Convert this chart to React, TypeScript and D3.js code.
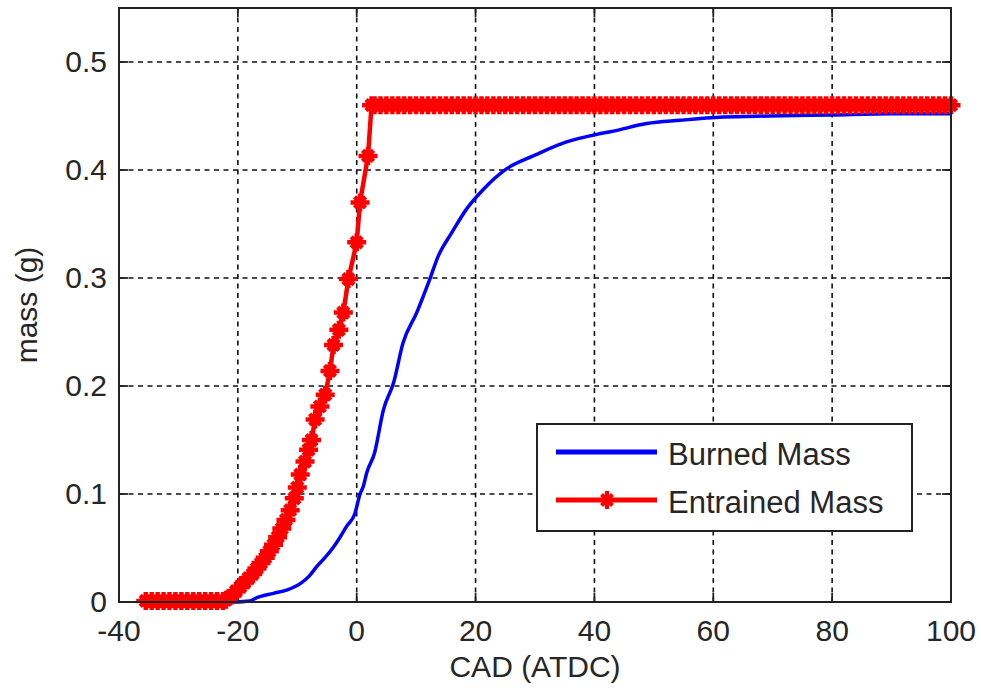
import React from "react";
import * as d3 from "d3";

// Crank angle (deg ATDC) and mass (g) for the burned-mass curve
const burnedCad = [
  -20.8, -18, -16.8, -14, -11.8, -9.5, -8, -6.7, -5.2, -3.9, -2.8, -1.7, -0.3, 0.56, 1.1, 1.7, 3.0,
  4.5, 6.2, 7.8, 10.1, 12.3, 13.7, 16.0, 18.5, 21.3, 25.2, 29.7, 35.3, 40.4, 43.2, 48.8, 54.4,
  61.7, 69.5, 80, 90, 100,
];
const burnedMass = [
  0, 0.001, 0.004, 0.008, 0.011, 0.017, 0.024, 0.033, 0.042, 0.051, 0.06, 0.07, 0.082, 0.1, 0.107,
  0.12, 0.138, 0.178, 0.203, 0.24, 0.268, 0.299, 0.32, 0.342, 0.364, 0.382, 0.401, 0.413, 0.426,
  0.433, 0.436, 0.443, 0.446, 0.449, 0.45, 0.451, 0.452, 0.452,
];

// Crank angle (deg ATDC) and mass (g) for the entrained-mass curve
const entrainedCad = [
  -35.5, -34.5, -33.5, -32.5, -31.5, -30.5, -29.5, -28.5, -27.5, -26.5, -25.5, -24.5, -23.5, -22.5,
  -22, -21, -20.3, -19.6, -18.9, -18.2, -17.5, -16.8, -16.1, -15.4, -14.7, -14.0, -13.3, -12.6,
  -11.9, -11.2, -10.5, -10.0, -9.5, -8.7, -8.1, -7.6, -7.0, -6.2, -5.3, -4.5, -3.9, -3.0, -2.25,
  -1.4, 0, 0.56, 1.9, 2.5,
  3, 4, 5, 6, 7, 8, 9, 10, 11, 12, 13, 14, 15, 16, 17, 18, 19, 20, 21, 22, 23, 24, 25, 26, 27, 28,
  29, 30, 31, 32, 33, 34, 35, 36, 37, 38, 39, 40, 41, 42, 43, 44, 45, 46, 47, 48, 49, 50, 51, 52,
  53, 54, 55, 56, 57, 58, 59, 60, 61, 62, 63, 64, 65, 66, 67, 68, 69, 70, 71, 72, 73, 74, 75, 76,
  77, 78, 79, 80, 81, 82, 83, 84, 85, 86, 87, 88, 89, 90, 91, 92, 93, 94, 95, 96, 97, 98, 99, 100,
];
const entrainedMass = [
  0.001, 0.001, 0.001, 0.001, 0.001, 0.001, 0.001, 0.001, 0.001, 0.001, 0.001, 0.001, 0.001, 0.001,
  0.002, 0.006, 0.01, 0.014, 0.018, 0.022, 0.026, 0.031, 0.036, 0.041, 0.047, 0.053, 0.06, 0.068,
  0.076, 0.085, 0.096, 0.106, 0.118, 0.13, 0.141, 0.15, 0.169, 0.181, 0.192, 0.214, 0.238, 0.252,
  0.268, 0.299, 0.333, 0.37, 0.413, 0.46,
  0.46, 0.46, 0.46, 0.46, 0.46, 0.46, 0.46, 0.46, 0.46, 0.46, 0.46, 0.46, 0.46, 0.46, 0.46, 0.46,
  0.46, 0.46, 0.46, 0.46, 0.46, 0.46, 0.46, 0.46, 0.46, 0.46, 0.46, 0.46, 0.46, 0.46, 0.46, 0.46,
  0.46, 0.46, 0.46, 0.46, 0.46, 0.46, 0.46, 0.46, 0.46, 0.46, 0.46, 0.46, 0.46, 0.46, 0.46, 0.46,
  0.46, 0.46, 0.46, 0.46, 0.46, 0.46, 0.46, 0.46, 0.46, 0.46, 0.46, 0.46, 0.46, 0.46, 0.46, 0.46,
  0.46, 0.46, 0.46, 0.46, 0.46, 0.46, 0.46, 0.46, 0.46, 0.46, 0.46, 0.46, 0.46, 0.46, 0.46, 0.46,
  0.46, 0.46, 0.46, 0.46, 0.46, 0.46, 0.46, 0.46, 0.46, 0.46, 0.46, 0.46, 0.46, 0.46, 0.46, 0.46,
  0.46, 0.46,
];

const xTicks = [-40, -20, 0, 20, 40, 60, 80, 100];
const yTicks = [0, 0.1, 0.2, 0.3, 0.4, 0.5];
const seriesNames = ["Burned Mass", "Entrained Mass"];

const W = 981;
const H = 690;
const left = 119;
const right = 951;
const top = 8;
const bottom = 602;
const FONT = "'Liberation Sans', Arial, sans-serif";

// asterisk marker: plus plus short diagonals
const starPath = (cx: number, cy: number) => {
  const h = 9.5, v = 9, d = 5.5;
  return `M${cx - h},${cy}L${cx + h},${cy}M${cx},${cy - v}L${cx},${cy + v}` +
    `M${cx - d},${cy - d}L${cx + d},${cy + d}M${cx - d},${cy + d}L${cx + d},${cy - d}`;
};

export default function App() {
  const x = d3.scaleLinear().domain([-40, 100]).range([left, right]);
  const y = d3.scaleLinear().domain([0, 0.55]).range([bottom, top]);

  const burned = burnedCad.map((c, i) => [c, burnedMass[i]] as [number, number]);
  const entrained = entrainedCad.map((c, i) => [c, entrainedMass[i]] as [number, number]);
  const smoothLine = d3.line<[number, number]>().x((d) => x(d[0])).y((d) => y(d[1])).curve(d3.curveMonotoneX);
  const line = d3.line<[number, number]>().x((d) => x(d[0])).y((d) => y(d[1]));

  const tickLen = 9;
  const gridColor = "#111";
  const textColor = "#262626";

  return (
    <svg
      width={W}
      height={H}
      style={{ position: "absolute", left: 0, top: 0, background: "#fff" }}
      fontFamily={FONT}
    >
      <rect x={0} y={0} width={W} height={H} fill="#fff" />
      {/* grid */}
      {xTicks.slice(1, -1).map((t) => (
        <line key={"gx" + t} x1={x(t)} x2={x(t)} y1={top} y2={bottom} stroke={gridColor}
          strokeWidth={1.6} strokeDasharray="5,4.5" />
      ))}
      {yTicks.slice(1).map((t) => (
        <line key={"gy" + t} x1={left} x2={right} y1={y(t)} y2={y(t)} stroke={gridColor}
          strokeWidth={1.6} strokeDasharray="5,4.5" />
      ))}
      {/* ticks */}
      {xTicks.map((t) => (
        <g key={"tx" + t}>
          <line x1={x(t)} x2={x(t)} y1={bottom} y2={bottom - tickLen} stroke="#222" strokeWidth={1.8} />
          <line x1={x(t)} x2={x(t)} y1={top} y2={top + tickLen} stroke="#222" strokeWidth={1.8} />
          <text x={x(t)} y={641} textAnchor="middle" fontSize={30} fill={textColor}>{t}</text>
        </g>
      ))}
      {yTicks.map((t) => (
        <g key={"ty" + t}>
          <line x1={left} x2={left + tickLen} y1={y(t)} y2={y(t)} stroke="#222" strokeWidth={1.8} />
          <line x1={right} x2={right - tickLen} y1={y(t)} y2={y(t)} stroke="#222" strokeWidth={1.8} />
          <text x={107} y={y(t)} dy="0.33em" textAnchor="end" fontSize={30} fill={textColor}>{t}</text>
        </g>
      ))}
      {/* series */}
      <path d={smoothLine(burned) || ""} fill="none" stroke="#0000ff" strokeWidth={3.5} strokeLinejoin="round" />
      <path d={line(entrained) || ""} fill="none" stroke="#ff0000" strokeWidth={4.5} strokeLinejoin="round" />
      <path
        d={entrained.map((d) => starPath(x(d[0]), y(d[1]))).join("")}
        fill="none" stroke="#ff0000" strokeWidth={4.5}
      />
      {/* frame */}
      <rect x={left} y={top} width={right - left} height={bottom - top} fill="none" stroke="#222" strokeWidth={2} />
      {/* axis labels */}
      <text x={(left + right) / 2} y={677} textAnchor="middle" fontSize={30} fill={textColor}>CAD (ATDC)</text>
      <text transform={`translate(37,${(top + bottom) / 2}) rotate(-90)`} textAnchor="middle" fontSize={30} fill={textColor}>
        mass (g)
      </text>
      {/* legend */}
      <g>
        <rect x={537} y={424} width={375} height={107} fill="#fff" stroke="#222" strokeWidth={2} />
        <line x1={556} x2={657} y1={452} y2={452} stroke="#0000ff" strokeWidth={5} />
        <text x={668} y={465} fontSize={31} fill={textColor}>{seriesNames[0]}</text>
        <line x1={556} x2={657} y1={500} y2={500} stroke="#ff0000" strokeWidth={5} />
        <path d={starPath(607, 500)} fill="none" stroke="#ff0000" strokeWidth={4} />
        <text x={668} y={513} fontSize={31} fill={textColor}>{seriesNames[1]}</text>
      </g>
    </svg>
  );
}
